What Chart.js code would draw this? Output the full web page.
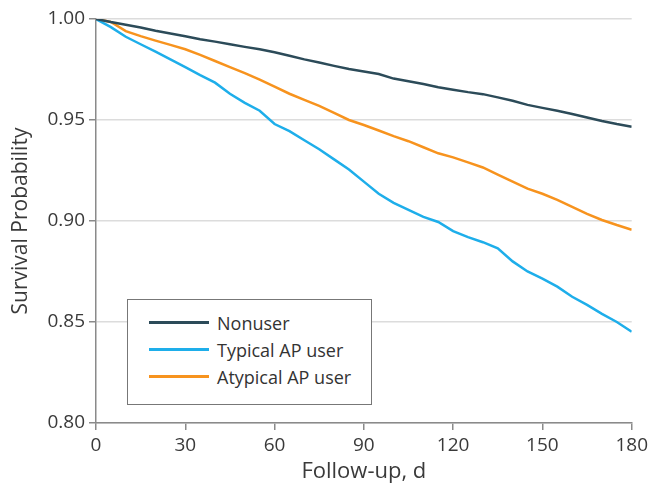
<!DOCTYPE html>
<html>
<head>
<meta charset="utf-8">
<script src="https://cdn.jsdelivr.net/npm/chart.js@4.4.1/dist/chart.umd.min.js"></script>
<style>
  body { margin: 0; background: #fff; }
  #wrap { position: relative; width: 652px; height: 489px; }
  #legend {
    position: absolute; left: 127px; top: 299px; width: 243px; height: 95px;
    border: 1.5px solid #777; background: #fff; padding-top: 9px; box-sizing: content-box;
    font-family: "Open Sans", sans-serif; font-size: 18px; color: #333;
  }
  .row { height: 27px; display: flex; align-items: center; }
  .swatch { width: 60px; height: 3px; margin-left: 21px; margin-right: 8px; }
</style>
</head>
<body>
<div id="wrap">
  <canvas id="canvas" width="652" height="489"></canvas>
  <div id="legend"></div>
</div>
<script>
// follow-up days (every 5 d)
const days = [0,5,10,15,20,25,30,35,40,45,50,55,60,65,70,75,80,85,90,
              95,100,105,110,115,120,125,130,135,140,145,150,155,160,165,170,175,180]

const nonuser = [1.000,0.9985,0.9972,0.9958,0.9942,0.9928,0.9915,0.9900,0.9888,0.9875,0.9862,0.9850,
                 0.9835,0.9818,0.9800,0.9785,0.9768,0.9752,0.9740,0.9728,0.9705,0.9692,0.9678,0.9662,
                 0.9650,0.9638,0.9628,0.9612,0.9595,0.9575,0.9560,0.9546,0.9530,0.9512,0.9495,0.9480,0.9467]

const typical = [1.000,0.9960,0.9912,0.9875,0.9838,0.9800,0.9762,0.9722,0.9685,0.9630,0.9585,0.9546,
                 0.9480,0.9445,0.9400,0.9355,0.9305,0.9255,0.9195,0.9135,0.9090,0.9055,0.9020,0.8995,
                 0.8950,0.8920,0.8895,0.8865,0.8800,0.8750,0.8715,0.8675,0.8625,0.8585,0.8540,0.8500,0.8452]

const atypical = [1.000,0.9985,0.9940,0.9915,0.9893,0.9872,0.9850,0.9822,0.9792,0.9762,0.9732,0.9700,
                  0.9665,0.9630,0.9600,0.9570,0.9535,0.9500,0.9475,0.9448,0.9420,0.9395,0.9365,0.9335,
                  0.9315,0.9290,0.9265,0.9230,0.9195,0.9160,0.9135,0.9105,0.9070,0.9035,0.9005,0.8980,0.8957]

const xTicks = [0,30,60,90,120,150,180]
const yTicks = [0.80,0.85,0.90,0.95,1.00]

const seriesNames = ['Nonuser','Typical AP user','Atypical AP user']
const seriesColors = ['#2c4b59','#1eaeea','#f7931e']
const seriesValues = [nonuser, typical, atypical]

const textColor = '#3a3a3a'
const axisColor = '#8a8a8a'

const datasets = seriesValues.map((vals, i) => ({
  label: seriesNames[i],
  data: days.map((d, j) => ({ x: d, y: vals[j] })),
  borderColor: seriesColors[i],
  borderWidth: 2.5,
  pointRadius: 0,
  tension: 0,
  fill: false
}))

const ctx = document.getElementById('canvas')
new Chart(ctx, {
  type: 'line',
  data: { datasets: datasets },
  options: {
    responsive: false,
    animation: false,
    layout: { autoPadding: false, padding: { top: 19, right: 20, left: 0, bottom: 0 } },
    plugins: { legend: { display: false }, tooltip: { enabled: false } },
    scales: {
      x: {
        type: 'linear', min: 0, max: 180,
        afterBuildTicks: (s) => { s.ticks = xTicks.map(v => ({ value: v })) },
        afterFit: (s) => { s.height = 66 },
        ticks: { color: textColor, font: { family: 'Open Sans', size: 19 }, padding: 4, maxRotation: 0 },
        grid: { drawOnChartArea: false, tickLength: 7, color: axisColor, lineWidth: 1.5 },
        border: { color: axisColor, width: 1.5 },
        title: { display: true, text: 'Follow-up, d', color: textColor,
                 font: { family: 'Open Sans', size: 22 }, padding: { top: 1 } }
      },
      y: {
        type: 'linear', min: 0.80, max: 1.00,
        afterBuildTicks: (s) => { s.ticks = yTicks.map(v => ({ value: v })) },
        afterFit: (s) => { s.width = 96 },
        ticks: { color: textColor, font: { family: 'Open Sans', size: 19 }, padding: 4,
                 callback: (v) => Number(v).toFixed(2) },
        grid: { color: '#dcdcdc', lineWidth: 1.5, tickLength: 7, tickColor: axisColor },
        border: { color: axisColor, width: 1.5 },
        title: { display: true, text: 'Survival Probability', color: textColor,
                 font: { family: 'Open Sans', size: 21 }, padding: { top: 8, bottom: 4 } }
      }
    }
  }
})

// legend drawn as html over the plot
const legend = document.getElementById('legend')
seriesNames.forEach((name, i) => {
  const row = document.createElement('div')
  row.className = 'row'
  row.innerHTML = '<span class="swatch" style="background:' + seriesColors[i] + '"></span>' + name
  legend.appendChild(row)
})
</script>
</body>
</html>
